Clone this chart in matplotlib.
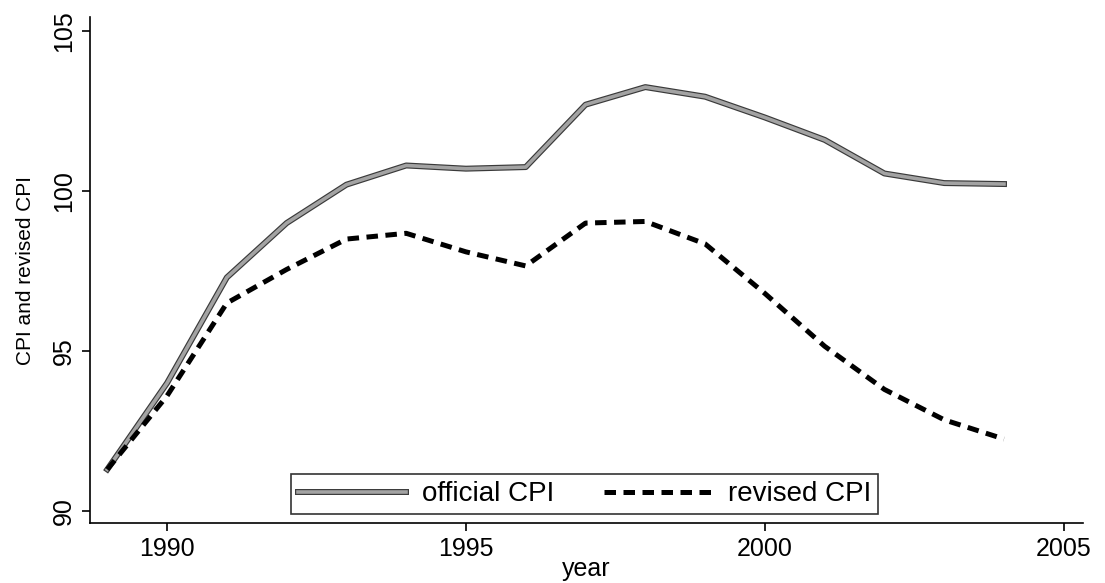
import matplotlib
matplotlib.use("Agg")
import matplotlib.pyplot as plt
import matplotlib.patheffects as pe

years = list(range(1989, 2005))
official_cpi = [91.3, 94.0, 97.3, 99.0, 100.2, 100.8, 100.7, 100.75,
                102.7, 103.25, 102.95, 102.3, 101.6, 100.55, 100.25, 100.22]
revised_cpi = [91.3, 93.6, 96.5, 97.55, 98.5, 98.68, 98.1, 97.66,
               99.0, 99.05, 98.35, 96.8, 95.15, 93.8, 92.85, 92.25]

x_ticks = [1990, 1995, 2000, 2005]
y_ticks = [90, 95, 100, 105]

plt.rcParams["font.family"] = ["Liberation Sans", "DejaVu Sans"]

fig = plt.figure(figsize=(11.05, 5.83), dpi=100)
ax = fig.add_axes([0.0814, 0.1029, 0.8986, 0.8679])

# grey line with a dark rim, like the scanned original
ax.plot(years, official_cpi, color="#a3a3a3", lw=2.6,
        path_effects=[pe.withStroke(linewidth=4.3, foreground="#3a3a3a")],
        label="official CPI")
ax.plot(years, revised_cpi, color="black", lw=3.6, dashes=(2.3, 1.5),
        label="revised CPI")

ax.set_xlim(1988.71, 2005.32)
ax.set_ylim(89.625, 105.44)
ax.set_xticks(x_ticks)
ax.set_yticks(y_ticks)
ax.tick_params(direction="out", length=6, width=1.2, labelsize=18, pad=4)
for lab in ax.get_yticklabels():
    lab.set_rotation(90)
    lab.set_va("center")

for side in ("top", "right"):
    ax.spines[side].set_visible(False)
for side in ("left", "bottom"):
    ax.spines[side].set_linewidth(1.2)

ax.set_xlabel("year", fontsize=18)
ax.xaxis.set_label_coords(0.5, -0.068)
ax.xaxis.label.set_va("top")
ax.set_ylabel("CPI and revised CPI", fontsize=15)
ax.yaxis.set_label_coords(-0.055, 0.5)

leg = fig.legend(loc="center", ncol=2, bbox_to_anchor=(0.263, 0.115, 0.532, 0.074),
                 mode="expand", fontsize=20, handlelength=3.9, handletextpad=0.58,
                 columnspacing=1.4, borderpad=0.25, fancybox=False, borderaxespad=0.0)
leg.get_frame().set_edgecolor("black")
leg.get_frame().set_linewidth(1.2)

fig.savefig("out.png", dpi=100)
